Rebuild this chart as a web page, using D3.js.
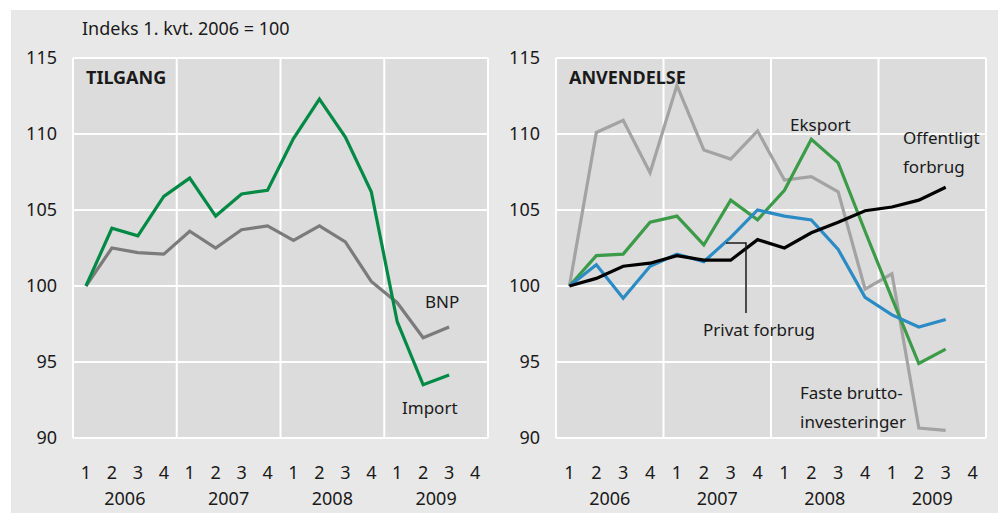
<!DOCTYPE html>
<html>
<head>
<meta charset="utf-8">
<script src="https://d3js.org/d3.v7.min.js"></script>
<style>
  body { margin: 0; background: #fff; }
  svg text { font-family: "Noto Sans", "DejaVu Sans", sans-serif; fill: #1a1a1a; }
</style>
</head>
<body>
<svg id="chart" width="998" height="513"></svg>
<script>
// ---- data ----
const years = ['2006', '2007', '2008', '2009'];
const quarters = ['1', '2', '3', '4'];
const yTicks = [90, 95, 100, 105, 110, 115];

// TILGANG
const bnp = [100, 102.5, 102.2, 102.1, 103.6, 102.5, 103.7, 103.95, 103.0, 103.95, 102.9, 100.3, 98.9, 96.6, 97.3];
const importSeries = [100, 103.8, 103.3, 105.9, 107.1, 104.6, 106.05, 106.3, 109.7, 112.3, 109.8, 106.2, 97.65, 93.5, 94.15];

// ANVENDELSE
const fasteBrutto = [100, 110.1, 110.9, 107.45, 113.2, 108.95, 108.35, 110.2, 106.97, 107.2, 106.2, 99.8, 100.8, 90.65, 90.5];
const eksport = [100, 102.0, 102.1, 104.2, 104.6, 102.7, 105.65, 104.35, 106.3, 109.65, 108.1, 103.6, 99.2, 94.9, 95.85];
const privatForbrug = [100, 101.4, 99.2, 101.3, 102.1, 101.6, 103.2, 105.0, 104.6, 104.35, 102.4, 99.25, 98.1, 97.3, 97.8];
const offentligtForbrug = [100, 100.5, 101.3, 101.5, 102.0, 101.7, 101.7, 103.05, 102.5, 103.5, 104.2, 104.95, 105.2, 105.65, 106.5];

const FS = 18;      // axis / title size
const LABEL_FS = 17; // series labels

const svg = d3.select('#chart');

svg.append('rect')
  .attr('x', 11).attr('y', 10)
  .attr('width', 987).attr('height', 503)
  .attr('fill', '#e8e8e8');

svg.append('text')
  .attr('x', 82).attr('y', 35)
  .attr('font-size', FS)
  .text('Indeks 1. kvt. 2006 = 100');

function drawPanel(opts) {
  const { left, right, title, series, labels } = opts;
  const top = 58, bottom = 438;

  const qIndex = d3.range(years.length * quarters.length);
  const x = d3.scaleBand().domain(qIndex).range([left, right]).padding(0);
  const xYear = d3.scaleBand().domain(years).range([left, right]).padding(0);
  const y = d3.scaleLinear().domain([90, 115]).range([bottom, top]);

  const g = svg.append('g');

  g.append('rect')
    .attr('x', left).attr('y', top)
    .attr('width', right - left).attr('height', bottom - top)
    .attr('fill', '#dcdcdc');

  // horizontal grid
  g.append('g')
    .selectAll('line')
    .data(yTicks)
    .enter()
    .append('line')
    .attr('x1', left).attr('x2', right)
    .attr('y1', (d) => y(d)).attr('y2', (d) => y(d))
    .attr('stroke', '#fff').attr('stroke-width', 2);

  // vertical grid at year borders
  const borders = years.map((yr) => xYear(yr)).concat([right]);
  g.append('g')
    .selectAll('line')
    .data(borders)
    .enter()
    .append('line')
    .attr('x1', (d) => d).attr('x2', (d) => d)
    .attr('y1', top).attr('y2', bottom)
    .attr('stroke', '#fff').attr('stroke-width', 2);

  // y tick labels
  g.append('g')
    .selectAll('text')
    .data(yTicks)
    .enter()
    .append('text')
    .attr('x', left - 16)
    .attr('y', (d) => y(d))
    .attr('dy', '0.35em')
    .attr('text-anchor', 'end')
    .attr('font-size', FS)
    .text((d) => d);

  // quarter labels
  g.append('g')
    .selectAll('text')
    .data(qIndex)
    .enter()
    .append('text')
    .attr('x', (d) => x(d) + x.bandwidth() / 2)
    .attr('y', 479)
    .attr('text-anchor', 'middle')
    .attr('font-size', FS)
    .text((d) => quarters[d % 4]);

  // year labels
  g.append('g')
    .selectAll('text')
    .data(years)
    .enter()
    .append('text')
    .attr('x', (d) => xYear(d) + xYear.bandwidth() / 2)
    .attr('y', 505)
    .attr('text-anchor', 'middle')
    .attr('font-size', FS)
    .text((d) => d);

  g.append('text')
    .attr('x', left + 13).attr('y', 84)
    .attr('font-size', FS)
    .attr('font-weight', 'bold')
    .text(title);

  const line = d3.line()
    .x((d, i) => x(i) + x.bandwidth() / 2)
    .y((d) => y(d))
    .curve(d3.curveLinear);

  series.forEach((s) => {
    g.append('path')
      .datum(s.values)
      .attr('d', line)
      .attr('fill', 'none')
      .attr('stroke', s.color)
      .attr('stroke-width', 3.2)
      .attr('stroke-linejoin', 'miter');
  });

  labels.forEach((lb) => {
    const t = g.append('text')
      .attr('x', lb.x).attr('y', lb.y)
      .attr('font-size', LABEL_FS);
    lb.lines.forEach((txt, i) => {
      t.append('tspan').attr('x', lb.x).attr('dy', i === 0 ? 0 : 29).text(txt);
    });
  });

  return { x, y, g };
}

drawPanel({
  left: 73, right: 488, title: 'TILGANG',
  series: [
    { values: bnp, color: '#7b7b7b' },
    { values: importSeries, color: '#008a45' }
  ],
  labels: [
    { x: 425, y: 308, lines: ['BNP'] },
    { x: 402, y: 414, lines: ['Import'] }
  ]
});

const right = drawPanel({
  left: 556, right: 986, title: 'ANVENDELSE',
  series: [
    { values: fasteBrutto, color: '#a3a3a3' },
    { values: eksport, color: '#3b9b48' },
    { values: privatForbrug, color: '#2b8bc4' },
    { values: offentligtForbrug, color: '#000000' }
  ],
  labels: [
    { x: 790, y: 131, lines: ['Eksport'] },
    { x: 903, y: 144, lines: ['Offentligt', 'forbrug'] },
    { x: 703, y: 336, lines: ['Privat forbrug'] },
    { x: 800, y: 399, lines: ['Faste brutto-', 'investeringer'] }
  ]
});

// leader for Privat forbrug
right.g.append('path')
  .attr('d', 'M746,313 L746,243 L726,243')
  .attr('fill', 'none')
  .attr('stroke', '#1a1a1a')
  .attr('stroke-width', 1.5);
</script>
</body>
</html>
